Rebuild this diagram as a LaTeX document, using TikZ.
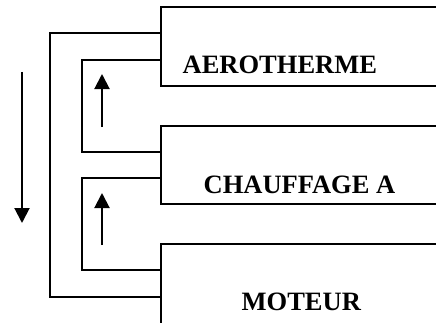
\documentclass[tikz,border=0pt]{standalone}
\usepackage{fontspec}
\setmainfont{Liberation Serif}
\usetikzlibrary{arrows.meta}
\begin{document}
\begin{tikzpicture}[x=1pt,y=1pt,line width=1.3pt]
		\tikzset{flow/.style={line width=2pt,-{Triangle[width=15pt,length=15pt]}},
			boxlabel/.style={anchor=base west,inner sep=0pt,font=\fontsize{26.5}{30}\selectfont\bfseries}}
		\useasboundingbox (0,0) rectangle (436,322);
		% boxes, open on the right
		\draw (440,315) -- (161,315) -- (161,236) -- (440,236);
		\node[boxlabel] (aero) at (182,248) {AEROTHERME};
		\draw (440,196) -- (161,196) -- (161,118) -- (440,118);
		\node[boxlabel] (chauf) at (203,129) {CHAUFFAGE A};
		\draw (440,78) -- (161,78) -- (161,-5);
		\node[boxlabel] (moteur) at (241,12) {MOTEUR};
		% points on the left edges
		\coordinate (a1) at (161,289);
		\coordinate (a2) at (161,262);
		\coordinate (c1) at (161,170);
		\coordinate (c2) at (161,144);
		\coordinate (m1) at (161,52);
		\coordinate (m2) at (161,25);
		% loops
		\draw (a1) -- (50,289) -- (50,25) -- (m2);
		\draw (a2) -- (82,262) -- (82,170) -- (c1);
		\draw (c2) -- (82,144) -- (82,52) -- (m1);
		% flow arrows
		\coordinate (d0) at (22,250);
		\coordinate (d1) at (22,99);
		\draw[flow] (d0) -- (d1);
		\coordinate (u0) at (102,195);
		\coordinate (u1) at (102,248);
		\draw[flow] (u0) -- (u1);
		\coordinate (v0) at (102,77);
		\coordinate (v1) at (102,129);
		\draw[flow] (v0) -- (v1);
\end{tikzpicture}
\end{document}
